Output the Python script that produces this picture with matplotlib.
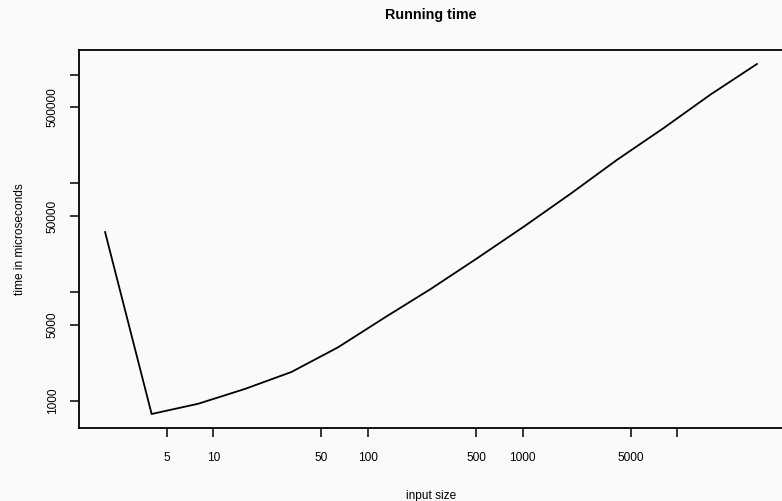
import matplotlib
matplotlib.use('Agg')
import matplotlib.pyplot as plt
from matplotlib.ticker import FixedLocator, FixedFormatter, NullLocator

plt.rcParams['font.family'] = ['Liberation Sans', 'DejaVu Sans']

# input sizes (powers of two) and measured running times
tamanhos = [2, 4, 8, 16, 32, 64, 128, 256, 512, 1024, 2048, 4096, 8192, 16384, 32768]
tempos = [35600, 755, 938, 1282, 1836, 3093, 5800, 10700, 20550, 40100,
          80200, 164800, 322700, 653000, 1250000]

xticks = [5, 10, 50, 100, 500, 1000, 5000, 10000]
xlabels = ['5', '10', '50', '100', '500', '1000', '5000', '']
yticks = [1000, 5000, 10000, 50000, 100000, 500000, 1000000]
ylabels = ['1000', '5000', '', '50000', '', '500000', '']

fig = plt.figure(figsize=(7.82, 5.01), dpi=100, facecolor='#fafafa')
# plot region in pixels: left 79, right 783, top 50, bottom 428
ax = fig.add_axes([79 / 782, (501 - 428) / 501, (783 - 79) / 782, (428 - 50) / 501])
ax.set_facecolor('#fafafa')

ax.plot(tamanhos, tempos, color='black', linewidth=1.3)
ax.set_xscale('log')
ax.set_yscale('log')
ax.margins(x=0.04, y=0.04)

ax.xaxis.set_major_locator(FixedLocator(xticks))
ax.xaxis.set_major_formatter(FixedFormatter(xlabels))
ax.xaxis.set_minor_locator(NullLocator())
ax.yaxis.set_major_locator(FixedLocator(yticks))
ax.yaxis.set_major_formatter(FixedFormatter(ylabels))
ax.yaxis.set_minor_locator(NullLocator())

ax.tick_params(axis='both', length=6.5, width=1.1, labelsize=8.6, color='black')
ax.tick_params(axis='x', pad=11)
ax.tick_params(axis='y', pad=8)
for lab in ax.get_yticklabels():
    lab.set_rotation(90)
    lab.set_va('center')

for s in ax.spines.values():
    s.set_linewidth(1.3)

ax.set_title('Running time', fontsize=10.3, fontweight='bold', pad=22)
ax.set_xlabel('input size', fontsize=8.6, labelpad=18.4)
ax.set_ylabel('time in microseconds', fontsize=8.6, labelpad=15)

fig.savefig('out.png', dpi=100, facecolor=fig.get_facecolor())
